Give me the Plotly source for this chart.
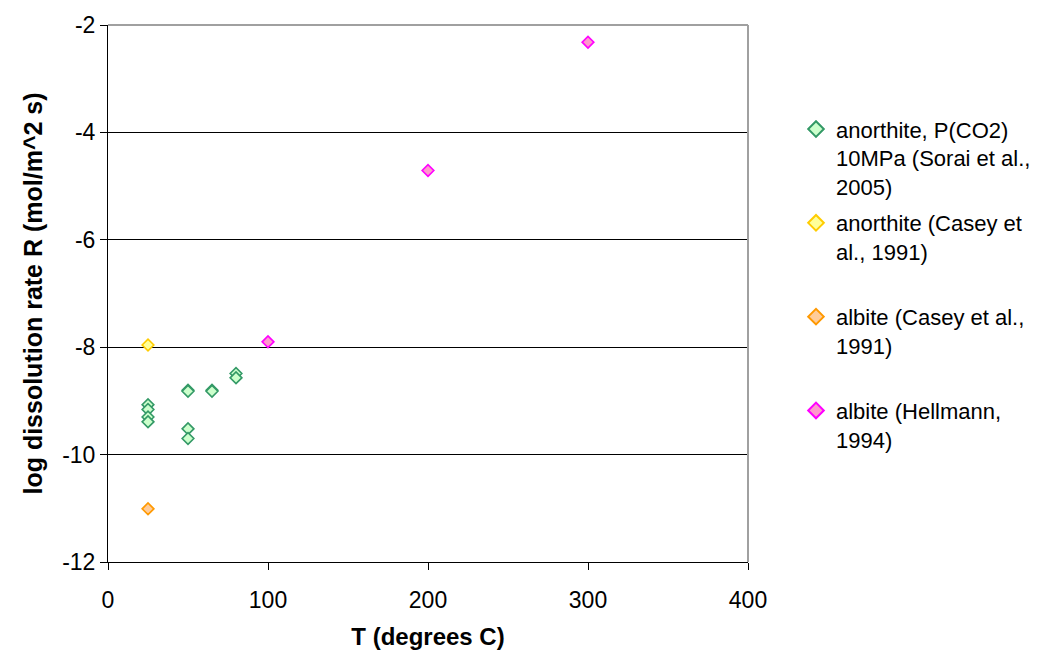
import plotly.graph_objects as go

# Data
sorai_T = [25, 25, 25, 25, 50, 50, 50, 50, 65, 65, 80, 80]
sorai_logR = [-9.07, -9.16, -9.30, -9.39, -8.80, -8.82, -9.52, -9.70, -8.80, -8.82, -8.49, -8.57]

casey_an_T = [25]
casey_an_logR = [-7.96]

casey_ab_T = [25]
casey_ab_logR = [-11.01]

hell_T = [100, 200, 300]
hell_logR = [-7.90, -4.71, -2.32]

names = [
    "anorthite, P(CO2)<br>10MPa (Sorai et al.,<br>2005)",
    "anorthite (Casey et<br>al., 1991)<br> ",
    "albite (Casey et al.,<br>1991)<br> ",
    "albite (Hellmann,<br>1994)<br> ",
]

x_ticks = [0, 100, 200, 300, 400]
y_ticks = [-12, -10, -8, -6, -4, -2]
y_ticktext = ["-12", "-10", "-8", "-6", "-4", "-2"]

series = [
    (sorai_T, sorai_logR, names[0], "#339966", "#ccffcc"),
    (casey_an_T, casey_an_logR, names[1], "#ffcc00", "#ffff99"),
    (casey_ab_T, casey_ab_logR, names[2], "#ff9900", "#ffcc99"),
    (hell_T, hell_logR, names[3], "#ff00ff", "#ff99cc"),
]

fig = go.Figure()
for i, (xs, ys, nm, lc, fc) in enumerate(series):
    fig.add_trace(go.Scatter(
        x=xs, y=ys, mode="markers", name=nm, legendgroup=f"g{i}",
        marker=dict(symbol="diamond", size=9, color=fc,
                    line=dict(color=lc, width=1.6)),
    ))

fig.update_layout(
    width=1048, height=659,
    margin=dict(l=108, r=298, t=19, b=97),
    paper_bgcolor="white", plot_bgcolor="white",
    font=dict(family="Liberation Sans, Arial, sans-serif", color="black"),
    legend=dict(x=1.075, y=0.845, xanchor="left", yanchor="top",
                font=dict(size=22), valign="top", tracegroupgap=5,
                traceorder="grouped", itemsizing="constant"),
    xaxis=dict(range=[0, 400], tickvals=x_ticks, showgrid=False,
               showline=True, linecolor="black", linewidth=1,
               ticks="outside", ticklen=7, tickcolor="black",
               tickfont=dict(size=23), zeroline=False, ticklabelstandoff=10,
               title=dict(text="<b>T (degrees C)</b>", font=dict(size=24), standoff=16)),
    yaxis=dict(range=[-12, -2], tickvals=y_ticks, ticktext=y_ticktext, showgrid=True,
               gridcolor="black", gridwidth=1,
               showline=True, linecolor="black", linewidth=1,
               ticks="outside", ticklen=7, tickcolor="black",
               tickfont=dict(size=23), zeroline=False,
               title=dict(text="<b>log dissolution rate R (mol/m^2 s)</b>", font=dict(size=25), standoff=12)),
    shapes=[
        dict(type="line", xref="paper", yref="paper", x0=0, x1=1, y0=1, y1=1,
             line=dict(color="#a0a0a0", width=2), layer="above"),
        dict(type="line", xref="paper", yref="paper", x0=1, x1=1, y0=0, y1=1,
             line=dict(color="#a0a0a0", width=2), layer="above"),
    ],
)

fig.write_html("out.html")
